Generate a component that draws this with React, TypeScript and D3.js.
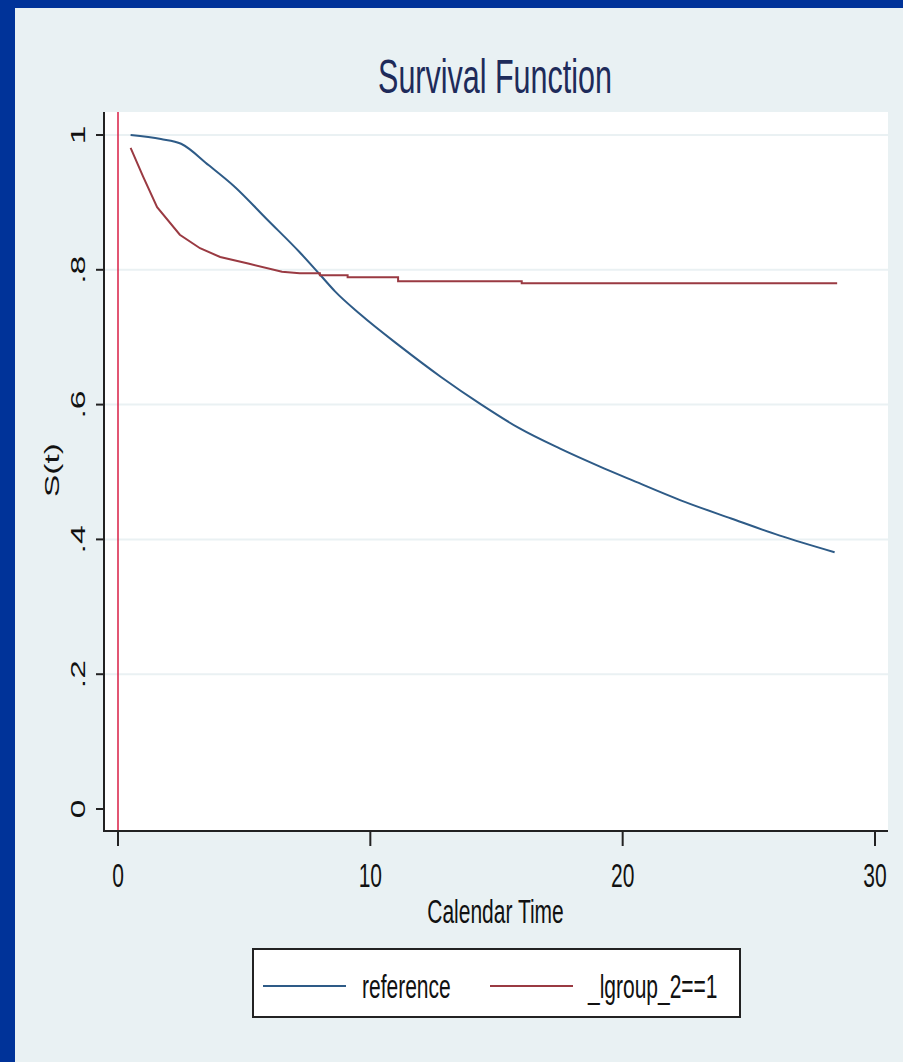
// Survival function chart (Stata style) drawn with d3 scales + JSX
import React from 'react';
import * as d3 from 'd3';

// data
const refTime = [0.5, 1.7, 2.5, 3.6, 4.6, 5.9, 7.2, 8.0, 8.6, 9.6, 11.2, 12.8, 14.4, 15.9, 17.5, 19.1, 20.3, 22.3, 24.3, 26.2, 28.4];
const refSurv = [1.0, 0.994, 0.987, 0.955, 0.924, 0.875, 0.826, 0.793, 0.768, 0.734, 0.686, 0.641, 0.6, 0.565, 0.535, 0.508, 0.489, 0.458, 0.431, 0.406, 0.381];

const grpTime = [0.5, 1.0, 1.55, 2.45, 3.25, 4.05, 5.2, 6.5, 7.2, 8.0, 8.0, 9.1, 9.1, 11.1, 11.1, 16.0, 16.0, 28.5];
const grpSurv = [0.981, 0.938, 0.893, 0.852, 0.832, 0.819, 0.809, 0.797, 0.795, 0.795, 0.792, 0.792, 0.789, 0.789, 0.783, 0.783, 0.78, 0.78];

const xTicks = [0, 10, 20, 30];
const yTicks = [0, 0.2, 0.4, 0.6, 0.8, 1];
const yTickLabels = ['0', '.2', '.4', '.6', '.8', '1'];
const seriesNames = ['reference', '_lgroup_2==1'];

const W = 903;
const H = 1062;
const plot = { left: 104, top: 112, right: 888, bottom: 831 };
const SY = 1.6; // vertical stretch of the text in the original image
const FONT = '"Liberation Sans", Arial, sans-serif';

const BLUE = '#2e5b87';
const RED = '#9a3a42';

export default function App() {
  const x = d3.scaleLinear().domain([0, 30]).range([118, 875]);
  const y = d3.scaleLinear().domain([0, 1]).range([809, 135]);

  const smooth = d3.line<[number, number]>()
    .x(d => x(d[0]))
    .y(d => y(d[1]))
    .curve(d3.curveMonotoneX);
  const line = d3.line<[number, number]>()
    .x(d => x(d[0]))
    .y(d => y(d[1]));

  const refPts = refTime.map((t, i) => [t, refSurv[i]] as [number, number]);
  const grpPts = grpTime.map((t, i) => [t, grpSurv[i]] as [number, number]);

  return (
    <svg width={W} height={H} style={{ position: 'absolute', left: 0, top: 0, display: 'block' }}>
      {/* blue frame + graph background */}
      <rect x={0} y={0} width={W} height={H} fill="#003399" />
      <rect x={15} y={8} width={W - 15} height={H - 8} fill="#e9f1f3" />

      {/* plot region */}
      <rect x={plot.left} y={plot.top} width={plot.right - plot.left} height={plot.bottom - plot.top} fill="#ffffff" />

      {/* grid lines */}
      {yTicks.filter(v => v > 0).map(v => (
        <line key={'g' + v} x1={plot.left} x2={plot.right} y1={y(v)} y2={y(v)} stroke="#eaf1f3" strokeWidth={2} />
      ))}

      {/* reference line at t = 0 */}
      <line x1={x(0)} x2={x(0)} y1={plot.top} y2={plot.bottom} stroke="#d81e45" strokeWidth={1.5} />

      {/* curves */}
      <path d={smooth(refPts) || ''} fill="none" stroke={BLUE} strokeWidth={2} />
      <path d={line(grpPts) || ''} fill="none" stroke={RED} strokeWidth={2} />

      {/* axes */}
      <line x1={plot.left} x2={plot.left} y1={plot.top} y2={plot.bottom + 1} stroke="#222" strokeWidth={2} />
      <line x1={plot.left - 1} x2={plot.right} y1={plot.bottom} y2={plot.bottom} stroke="#222" strokeWidth={2} />

      {yTicks.map((v, i) => (
        <g key={'y' + v}>
          <line x1={96} x2={plot.left} y1={y(v)} y2={y(v)} stroke="#222" strokeWidth={2} />
          <text
            transform={`translate(85,${y(v)}) scale(1,${SY}) rotate(-90)`}
            textAnchor="middle"
            fontFamily={FONT}
            fontSize={21}
            fill="#111"
          >{yTickLabels[i]}</text>
        </g>
      ))}

      {xTicks.map(v => (
        <g key={'x' + v}>
          <line x1={x(v)} x2={x(v)} y1={plot.bottom} y2={846} stroke="#222" strokeWidth={2} />
          <text
            transform={`translate(${x(v)},887) scale(1,${SY})`}
            textAnchor="middle"
            fontFamily={FONT}
            fontSize={21}
            fill="#111"
          >{v}</text>
        </g>
      ))}

      {/* axis titles */}
      <text transform={`translate(495.5,923) scale(1,${SY})`} textAnchor="middle" fontFamily={FONT} fontSize={21} fill="#111">
        Calendar Time
      </text>
      <text transform={`translate(59,470) scale(1,${SY}) rotate(-90)`} textAnchor="middle" fontFamily={FONT} fontSize={21} fill="#111">
        S(t)
      </text>

      {/* title */}
      <text transform={`translate(495,93) scale(1,${SY})`} textAnchor="middle" fontFamily={FONT} fontSize={30.5} fill="#1e2b5a">
        Survival Function
      </text>

      {/* legend */}
      <rect x={253} y={949} width={487} height={68} fill="#ffffff" stroke="#222" strokeWidth={2} />
      <line x1={263} x2={346} y1={986} y2={986} stroke={BLUE} strokeWidth={2} />
      <text transform={`translate(362,998) scale(1,${SY})`} fontFamily={FONT} fontSize={21} fill="#111">{seriesNames[0]}</text>
      <line x1={490} x2={573} y1={986} y2={986} stroke={RED} strokeWidth={2} />
      <text transform={`translate(588,998) scale(1,${SY})`} fontFamily={FONT} fontSize={21} fill="#111">{seriesNames[1]}</text>
    </svg>
  );
}
